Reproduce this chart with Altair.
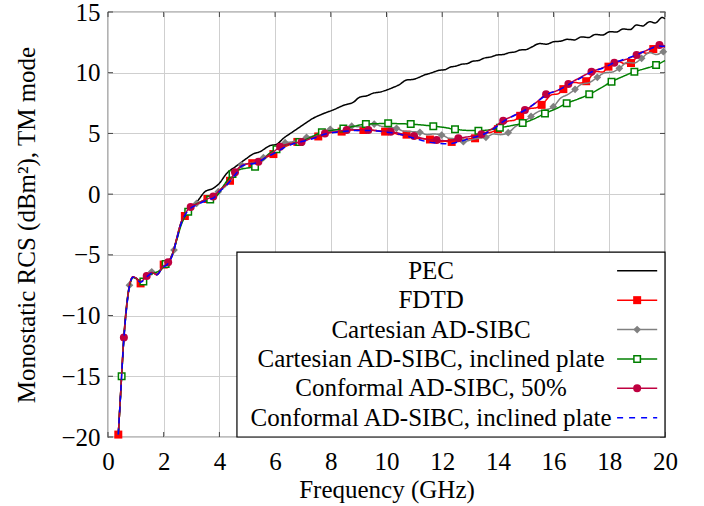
import altair as alt
import pandas as pd

NAMES = ["PEC", "FDTD", "Cartesian AD-SIBC", "Cartesian AD-SIBC, inclined plate",
         "Conformal AD-SIBC, 50%", "Conformal AD-SIBC, inclined plate"]
COLORS = ["#000000", "#ff0000", "#808080", "#008000", "#bf0040", "#0000ff"]

PEC_PTS = [(0.37,-19.8),(0.45,-16.6),(0.57,-11.9),(0.67,-9.3),(0.77,-7.6),(0.9,-6.85),(1.0,-6.9),
    (1.17,-7.3),(1.4,-6.75),(1.6,-6.45),(1.75,-6.6),(1.95,-6.1),(2.15,-5.65),(2.3,-5.0),(2.45,-3.8),
    (2.6,-2.5),(2.8,-1.5),(3.0,-1.0),(3.2,-0.6),(3.48,0.2),(3.78,0.48),(4.0,0.9),(4.26,1.7),(4.6,2.3),
    (4.98,2.95),(5.2,3.3),(5.46,3.5),(5.82,4.0),(6.05,4.1),(6.3,4.6),(6.64,5.14),(7.0,5.7),(7.36,6.24),
    (7.7,6.6),(8.08,6.93),(8.5,7.35),(8.8,7.55),(9.05,8.0),(9.3,8.1),(9.5,8.3),(9.75,8.4),(10.0,8.57),
    (10.25,8.8),(10.45,9.0),(10.72,9.4),(10.95,9.45),(11.15,9.6),(11.4,9.85),(11.56,9.95),(11.9,10.2),
    (12.1,10.25),(12.28,10.45),(12.5,10.55),(12.7,10.7),(12.9,10.75),(13.1,10.95),(13.3,11.0),(13.5,11.2),
    (13.75,11.3),(13.97,11.46),(14.2,11.5),(14.4,11.65),(14.6,11.7),(14.8,11.87),(15.0,11.9),(15.2,12.1),
    (15.5,12.4),(15.75,12.35),(16.0,12.55),(16.25,12.6),(16.5,12.75),(16.75,12.7),(17.0,12.95),(17.25,12.9),
    (17.5,13.15),(17.75,13.1),(18.03,13.38),(18.25,13.35),(18.5,13.6),(18.75,13.55),(18.98,13.93),
    (19.2,13.85),(19.45,14.2),(19.65,14.1),(19.9,14.55),(20.0,14.45)]

FDTD_PTS = [(0.37,-19.8),(0.45,-16.6),(0.55,-12.4),(0.65,-9.6),(0.77,-7.6),(0.88,-6.85),(0.98,-6.9),
    (1.17,-7.35),(1.3,-7.0),(1.45,-6.6),(1.6,-6.45),(1.75,-6.65),(1.9,-6.2),(2.0,-5.8),(2.16,-5.65),
    (2.3,-5.1),(2.45,-3.9),(2.6,-2.6),(2.76,-1.8),(2.95,-1.1),(3.15,-0.85),(3.35,-0.6),(3.57,-0.4),
    (3.8,-0.15),(4.05,0.4),(4.38,1.1),(4.56,1.7),(4.8,2.3),(5.0,2.5),(5.18,2.55),(5.4,2.7),(5.65,3.0),
    (5.94,3.3),(6.2,3.75),(6.45,4.0),(6.8,4.3),(7.1,4.55),(7.3,4.65),(7.55,4.75),(7.9,5.05),(8.15,5.1),
    (8.39,5.15),(8.7,5.3),(8.95,5.25),(9.17,5.28),(9.55,5.25),(9.75,5.2),(9.95,5.15),(10.3,5.0),(10.5,4.9),
    (10.72,4.9),(11.1,4.6),(11.35,4.55),(11.56,4.5),(11.9,4.3),(12.1,4.35),(12.34,4.3),(12.7,4.5),
    (12.95,4.55),(13.18,4.6),(13.5,5.0),(13.75,5.1),(14.0,5.35),(14.35,6.0),(14.6,6.1),(14.8,6.45),
    (15.15,7.05),(15.35,7.1),(15.57,7.35),(15.95,8.2),(16.15,8.25),(16.35,8.65),(16.75,9.2),(16.95,9.15),
    (17.17,9.3),(17.55,10.1),(17.75,10.05),(17.97,10.5),(18.35,10.9),(18.55,10.75),(18.78,10.8),
    (19.15,11.7),(19.35,11.6),(19.58,11.95),(19.8,12.2),(20.0,12.1)]
FDTD_MARKS = [0.37,1.17,2.0,2.76,3.57,4.38,5.18,5.94,6.8,7.55,8.39,9.17,9.95,10.72,11.56,12.34,13.18,
    14.0,14.8,15.57,16.35,17.17,17.97,18.78,19.58]

CART_PTS = [(0.37,-19.8),(0.45,-16.5),(0.57,-11.9),(0.67,-9.3),(0.77,-7.5),(0.9,-6.85),(1.0,-6.9),
    (1.2,-7.2),(1.4,-6.7),(1.57,-6.4),(1.75,-6.6),(1.95,-6.1),(2.15,-5.7),(2.37,-4.6),(2.55,-2.9),
    (2.75,-1.9),(2.95,-1.15),(3.18,-0.77),(3.4,-0.55),(3.6,-0.35),(3.78,-0.15),(3.96,0.2),(4.2,0.6),
    (4.4,1.1),(4.6,1.8),(4.8,2.4),(5.0,2.5),(5.2,2.6),(5.4,2.75),(5.58,3.0),(5.8,3.35),(6.1,3.8),
    (6.36,4.24),(6.6,4.3),(6.9,4.5),(7.13,4.68),(7.4,4.8),(7.7,5.1),(7.98,5.34),(8.2,5.3),(8.5,5.45),
    (8.75,5.6),(9.0,5.55),(9.3,5.65),(9.56,5.77),(9.8,5.6),(10.1,5.5),(10.36,5.42),(10.6,5.2),(10.9,5.15),
    (11.2,5.09),(11.45,4.9),(11.7,4.95),(11.98,4.87),(12.25,4.6),(12.5,4.55),(12.76,4.32),(13.0,4.45),
    (13.3,4.6),(13.57,4.68),(13.85,4.95),(14.1,4.9),(14.37,5.06),(14.65,5.6),(14.9,5.9),(15.19,6.4),
    (15.45,6.8),(15.7,6.95),(15.99,7.2),(16.25,7.9),(16.5,8.2),(16.77,8.63),(17.0,9.05),(17.3,9.2),
    (17.57,9.62),(17.85,10.0),(18.1,10.05),(18.36,10.36),(18.65,10.85),(18.9,10.8),(19.16,11.19),
    (19.45,11.65),(19.7,11.5),(19.94,11.73),(20.0,11.75)]
CART_MARKS = [0.77,1.57,2.37,3.18,3.96,4.8,5.58,6.36,7.13,7.98,8.75,9.56,10.36,11.2,11.98,12.76,13.57,
    14.37,15.19,15.99,16.77,17.57,18.36,19.16,19.94]

CART_INC_PTS = [(0.37,-19.8),(0.49,-15.0),(0.6,-10.8),(0.7,-8.5),(0.8,-7.3),(0.9,-6.85),(1.0,-6.95),
    (1.27,-7.2),(1.45,-6.7),(1.65,-6.5),(1.85,-6.3),(2.07,-5.75),(2.25,-5.3),(2.45,-3.9),(2.65,-2.4),
    (2.88,-1.45),(3.1,-0.9),(3.35,-0.65),(3.67,-0.45),(3.9,-0.15),(4.15,0.7),(4.47,1.65),(4.7,2.0),
    (5.0,2.15),(5.28,2.26),(5.6,2.9),(5.8,3.35),(6.05,3.7),(6.4,4.05),(6.87,4.3),(7.25,4.65),(7.68,5.1),
    (8.05,5.25),(8.45,5.4),(8.85,5.6),(9.26,5.77),(9.65,5.8),(10.06,5.83),(10.45,5.8),(10.87,5.77),
    (11.25,5.7),(11.68,5.6),(12.05,5.5),(12.46,5.34),(12.9,5.25),(13.3,5.23),(13.7,5.3),(14.07,5.47),
    (14.5,5.65),(14.89,5.85),(15.3,6.2),(15.69,6.65),(16.1,7.05),(16.47,7.48),(16.9,7.85),(17.28,8.22),
    (17.7,8.75),(18.08,9.26),(18.5,9.7),(18.9,10.08),(19.3,10.35),(19.68,10.63),(20.0,11.0)]
CART_INC_MARKS = [0.49,1.27,2.07,2.88,3.67,4.47,5.28,6.05,6.87,7.68,8.45,9.26,10.06,10.87,11.68,12.46,
    13.3,14.07,14.89,15.69,16.47,17.28,18.08,18.9,19.68]

CONF_PTS = [(0.37,-19.8),(0.45,-16.5),(0.57,-11.8),(0.67,-9.2),(0.77,-7.5),(0.9,-6.8),(1.0,-6.9),
    (1.17,-7.2),(1.39,-6.75),(1.57,-6.45),(1.75,-6.6),(1.95,-6.0),(2.16,-5.6),(2.3,-5.0),(2.45,-3.8),
    (2.6,-2.5),(2.8,-1.5),(2.97,-1.05),(3.2,-0.8),(3.4,-0.55),(3.6,-0.35),(3.78,-0.2),(4.0,0.3),(4.2,0.7),
    (4.4,1.2),(4.56,1.8),(4.8,2.35),(5.0,2.5),(5.2,2.55),(5.4,2.67),(5.7,3.1),(5.95,3.5),(6.18,3.9),
    (6.5,4.15),(6.95,4.3),(7.3,4.6),(7.55,4.8),(7.79,5.0),(8.2,5.15),(8.57,5.28),(9.0,5.3),(9.35,5.28),
    (9.8,5.2),(10.15,5.14),(10.6,4.95),(10.99,4.79),(11.4,4.55),(11.8,4.45),(12.2,4.4),(12.58,4.6),
    (13.0,4.75),(13.41,4.93),(13.8,5.4),(14.19,6.05),(14.6,6.5),(14.97,6.93),(15.35,7.5),(15.73,8.22),
    (16.1,8.5),(16.53,9.07),(16.95,9.6),(17.36,10.08),(17.75,10.4),(18.18,10.83),(18.6,11.1),
    (18.98,11.46),(19.4,11.9),(19.8,12.28),(20.0,12.2)]
CONF_MARKS = [0.57,1.39,2.16,2.97,3.78,4.56,5.4,6.18,6.95,7.79,8.57,9.35,10.15,10.99,11.8,12.58,13.41,
    14.19,14.97,15.73,16.53,17.36,18.18,18.98,19.8]

CONF_INC_PTS = [(0.37,-19.8),(0.45,-16.6),(0.57,-11.9),(0.67,-9.3),(0.77,-7.6),(0.9,-6.85),(1.0,-6.95),
    (1.17,-7.25),(1.4,-6.8),(1.6,-6.5),(1.75,-6.65),(1.95,-6.1),(2.16,-5.7),(2.3,-5.1),(2.45,-3.9),
    (2.6,-2.6),(2.8,-1.6),(3.0,-1.1),(3.2,-0.9),(3.4,-0.65),(3.6,-0.45),(3.8,-0.3),(4.0,0.2),(4.2,0.6),
    (4.4,1.1),(4.6,1.7),(4.8,2.3),(5.0,2.45),(5.2,2.5),(5.4,2.65),(5.7,3.05),(6.0,3.4),(6.3,3.8),
    (6.6,4.1),(7.0,4.35),(7.4,4.6),(7.8,4.95),(8.2,5.1),(8.6,5.2),(9.0,5.25),(9.4,5.25),(9.8,5.15),
    (10.2,5.05),(10.6,4.85),(11.0,4.6),(11.4,4.35),(11.8,4.2),(12.2,4.15),(12.6,4.3),(13.0,4.6),
    (13.4,4.85),(13.8,5.3),(14.2,6.0),(14.6,6.5),(15.0,6.95),(15.4,7.6),(15.8,8.25),(16.2,8.6),
    (16.6,9.1),(17.0,9.6),(17.4,10.1),(17.8,10.4),(18.2,10.85),(18.6,11.15),(19.0,11.5),(19.4,11.9),
    (19.8,12.2),(20.0,12.15)]

X_TICKS = list(range(0, 21, 2))
Y_TICKS = list(range(-20, 16, 5))

FONT = "'Liberation Serif', 'DejaVu Serif', serif"
FS = 25
W, H = 557, 425
xscale = alt.Scale(domain=[0, 20], nice=False, zero=False)
yscale = alt.Scale(domain=[-20, 15], nice=False, zero=False)
xaxis = alt.Axis(values=X_TICKS, title="Frequency (GHz)", labelPadding=12, titlePadding=3)
yaxis = alt.Axis(values=Y_TICKS, title="Monostatic RCS (dBm²), TM mode", labelPadding=8, titlePadding=21)


def frame(pts):
    return pd.DataFrame(pts, columns=["f", "v"])


def enc(ax=True):
    if ax:
        return dict(x=alt.X("f:Q", scale=xscale, axis=xaxis), y=alt.Y("v:Q", scale=yscale, axis=yaxis))
    return dict(x=alt.X("f:Q", scale=xscale), y=alt.Y("v:Q", scale=yscale))


MARK_STYLE = {
    "FDTD": dict(shape="square", filled=True, size=64, color="#ff0000"),
    "Cartesian AD-SIBC": dict(shape="diamond", filled=True, size=60, color="#808080"),
    "Cartesian AD-SIBC, inclined plate": dict(shape="square", filled=True, size=42, fill="white",
                                              stroke="#008000", strokeWidth=1.5),
    "Conformal AD-SIBC, 50%": dict(shape="circle", filled=True, size=64, color="#bf0040"),
}

series = [
    (NAMES[0], PEC_PTS, None),
    (NAMES[1], FDTD_PTS, FDTD_MARKS),
    (NAMES[2], CART_PTS, CART_MARKS),
    (NAMES[3], CART_INC_PTS, CART_INC_MARKS),
    (NAMES[4], CONF_PTS, CONF_MARKS),
    (NAMES[5], CONF_INC_PTS, None),
]

layers = []
for i, (name, pts, marks) in enumerate(series):
    df = frame(pts)
    dash = [6, 5] if i == 5 else [1, 0]
    layers.append(alt.Chart(df).mark_line(color=COLORS[i], strokeWidth=1.5, interpolate="monotone",
                                          strokeDash=dash).encode(**enc(i == 0)))
    if marks:
        mdf = df[df["f"].isin(marks)]
        layers.append(alt.Chart(mdf).mark_point(**MARK_STYLE[name], opacity=1).encode(**enc(False)))

# inward tick marks on all four sides of the frame
xt = pd.DataFrame({"f": X_TICKS})
yt = pd.DataFrame({"v": Y_TICKS})
TICK = dict(color="#444444", strokeWidth=1)
layers.append(alt.Chart(xt).mark_rule(**TICK).encode(x=alt.X("f:Q", scale=xscale), y=alt.value(0), y2=alt.value(5)))
layers.append(alt.Chart(xt).mark_rule(**TICK).encode(x=alt.X("f:Q", scale=xscale), y=alt.value(H), y2=alt.value(H - 5)))
layers.append(alt.Chart(yt).mark_rule(**TICK).encode(y=alt.Y("v:Q", scale=yscale), x=alt.value(0), x2=alt.value(5)))
layers.append(alt.Chart(yt).mark_rule(**TICK).encode(y=alt.Y("v:Q", scale=yscale), x=alt.value(W), x2=alt.value(W - 5)))

# legend box (in data coordinates, bottom-right corner of the plot)
LEG_BOX = dict(f=[4.63], f2=[20.0], v=[-20.0], v2=[-4.78])
ROW_V0 = -6.31
ROW_STEP = 2.42
leg = pd.DataFrame({"name": NAMES, "row": range(len(NAMES))})
leg["v"] = ROW_V0 - ROW_STEP * leg["row"]
leg["tx"] = 11.6
leg["l1"] = 18.28
leg["l2"] = 19.72
leg["mx"] = 19.0

layers.append(alt.Chart(pd.DataFrame(LEG_BOX)).mark_rect(fill="white", stroke="black", strokeWidth=1.2)
              .encode(x=alt.X("f:Q", scale=xscale), x2="f2:Q", y=alt.Y("v:Q", scale=yscale), y2="v2:Q"))
layers.append(alt.Chart(leg).mark_text(font=FONT, fontSize=FS, align="center", baseline="middle", color="black")
              .encode(x=alt.X("tx:Q", scale=xscale), y=alt.Y("v:Q", scale=yscale), text="name:N"))
for i, name in enumerate(NAMES):
    row = leg[leg["name"] == name]
    dash = [6, 6] if i == 5 else [1, 0]
    layers.append(alt.Chart(row).mark_rule(color=COLORS[i], strokeWidth=1.5, strokeDash=dash)
                  .encode(x=alt.X("l1:Q", scale=xscale), x2="l2:Q", y=alt.Y("v:Q", scale=yscale)))
    if name in MARK_STYLE:
        layers.append(alt.Chart(row).mark_point(**MARK_STYLE[name], opacity=1)
                      .encode(x=alt.X("mx:Q", scale=xscale), y=alt.Y("v:Q", scale=yscale)))

chart = alt.layer(*layers).properties(
    width=W, height=H,
    padding={"left": 108, "top": 12, "right": 39, "bottom": 69},
    autosize=alt.AutoSizeParams(type="none"),
).configure_view(stroke="black", strokeWidth=1.2).configure_axis(
    labelFont=FONT, labelFontSize=FS, labelColor="black", titleFont=FONT, titleFontSize=FS,
    titleFontWeight="normal", titleColor="black", grid=True, gridColor="#cfcfcf", gridWidth=1,
    ticks=False, domain=False, labelFlush=False,
)

chart.save("out.html", embed_options={"renderer": "svg", "actions": False})
